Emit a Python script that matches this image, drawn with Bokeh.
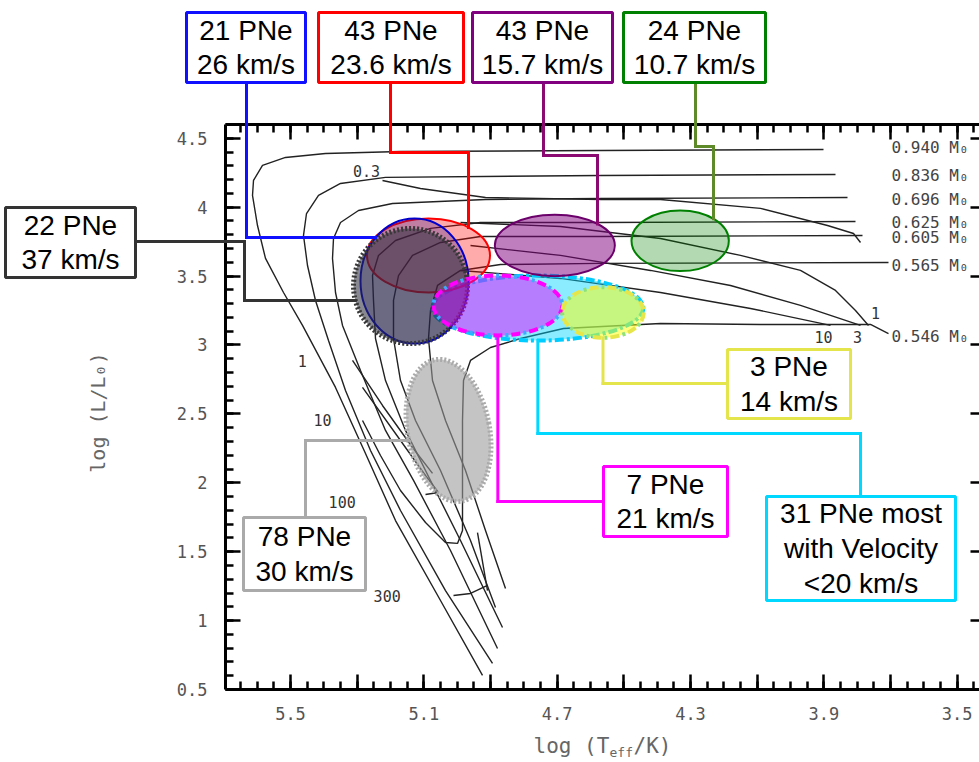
import math
from bokeh.plotting import figure
from bokeh.models import (Range1d, LinearAxis, FixedTicker, CustomJSTickFormatter,
                          Label, BoxAnnotation, Arrow, ColumnDataSource)
from bokeh.embed import file_html
from bokeh.resources import INLINE

# ---------------------------------------------------------------- data
# post-AGB evolutionary tracks, labelled by remnant mass (M_sun)
track_masses = ["0.940", "0.836", "0.696", "0.625", "0.605", "0.565", "0.546"]
track_label_logL = [4.435, 4.230, 4.056, 3.891, 3.778, 3.577, 3.062]
track_logT = [
    [3.901, 4.57, 5.17, 5.395, 5.515, 5.584, 5.611, 5.614, 5.599, 5.575, 5.521, 5.464, 5.365, 5.275, 5.185, 5.05, 4.924],
    [3.865, 4.57, 5.215, 5.35, 5.416, 5.452, 5.461, 5.449, 5.425, 5.386, 5.335, 5.26, 5.17, 5.035, 4.894],
    [3.829, 4.57, 4.915, 5.194, 5.296, 5.35, 5.371, 5.374, 5.365, 5.344, 5.29, 5.215, 5.131, 5.02, 4.879],
    [3.805, 4.57, 4.93, 5.08, 5.185, 5.236, 5.254, 5.251, 5.245, 5.215, 5.155, 5.08, 4.99, 4.864],
    [3.784, 4.57, 4.93, 5.05, 5.134, 5.176, 5.191, 5.191, 5.17, 5.125, 5.05, 4.96, 4.885],
    [3.706, 4.57, 4.87, 4.99, 5.059, 5.08, 5.086, 5.074, 5.035, 4.975, 4.915, 4.855],
    [3.706, 3.76, 4.09, 4.39, 4.681, 4.81, 4.90, 4.96, 4.981, 4.984, 4.984, 4.984, 4.999, 5.035, 5.095, 5.17, 5.23, 5.284],
]
track_logL = [
    [4.419, 4.411, 4.404, 4.390, 4.361, 4.303, 4.194, 4.085, 3.867, 3.628, 3.381, 3.142, 2.692, 2.213, 1.726, 1.146, 0.602],
    [4.237, 4.230, 4.216, 4.172, 4.085, 3.954, 3.795, 3.577, 3.323, 3.033, 2.670, 2.234, 1.799, 1.218, 0.689],
    [4.070, 4.063, 4.056, 4.027, 3.976, 3.889, 3.773, 3.628, 3.381, 3.142, 2.815, 2.380, 2.017, 1.509, 0.798],
    [3.896, 3.889, 3.889, 3.846, 3.758, 3.650, 3.504, 3.323, 3.047, 2.742, 2.380, 2.017, 1.581, 0.950],
    [3.795, 3.787, 3.787, 3.744, 3.650, 3.504, 3.323, 3.047, 2.742, 2.452, 2.089, 1.581, 1.095],
    [3.599, 3.592, 3.584, 3.541, 3.432, 3.250, 3.047, 2.742, 2.452, 2.089, 1.654, 1.233],
    [3.083, 3.149, 3.149, 3.156, 3.120, 3.047, 2.982, 2.888, 2.742, 2.452, 2.017, 1.654, 1.560, 1.567, 1.712, 1.944, 2.198, 2.452],
]
# additional branches / loops of the tracks
branch_logT = [
    [5.224, 5.11, 4.915, 4.57, 4.39, 4.09, 3.889, 3.811, 3.79],
    [4.99, 4.69, 4.39, 4.15, 3.97, 3.865, 3.805, 3.766],
    [4.96, 4.69, 4.42, 4.18, 3.97, 3.79],
    [4.99, 4.69, 4.39, 4.12, 3.88],
    [5.314, 5.224, 5.134, 5.074],
    [5.284, 5.17, 5.095, 5.056, 5.095],
    [5.011, 4.96, 4.909],
    [4.939, 4.909],
]
branch_logL = [
    [4.194, 4.136, 4.070, 4.056, 4.056, 3.991, 3.867, 3.809, 3.744],
    [3.889, 3.860, 3.773, 3.650, 3.541, 3.396, 3.250, 3.142],
    [3.722, 3.650, 3.541, 3.432, 3.287, 3.142],
    [3.541, 3.483, 3.381, 3.265, 3.142],
    [2.888, 2.561, 2.256, 2.068],
    [2.692, 2.307, 2.053, 1.930, 1.915],
    [1.182, 1.197, 1.255],
    [1.639, 1.218],
]
# post-AGB age labels (10^3 yr) along the tracks
age_text = ["0.3", "1", "10", "100", "300", "10", "3", "1"]
age_logT = [5.272, 5.465, 5.404, 5.345, 5.21, 3.901, 3.799, 3.745]
age_logL = [4.259, 2.882, 2.459, 1.859, 1.175, 3.057, 3.057, 3.231]

# PN groups: number of nebulae, mean expansion velocity, region in the HR plane
group_pne = [21, 43, 43, 24, 22, 3, 7, 31, 78]
group_vel = ["26", "23.6", "15.7", "10.7", "37", "14", "21", "<20", "30"]
ell_logT = [5.128, 5.086, 4.707, 4.331, 5.140, 4.5625, 4.878, 4.758, 5.026]
ell_logL = [3.464, 3.649, 3.722, 3.756, 3.428, 3.236, 3.287, 3.268, 2.380]
ell_dT = [0.324, 0.369, 0.360, 0.292, 0.342, 0.245, 0.387, 0.633, 0.246]
ell_dL = [0.907, 0.537, 0.446, 0.440, 0.835, 0.368, 0.435, 0.472, 1.045]
ell_tilt = [0, 0, 0, 0, 0, 0, 0, 0, 0.19]

# axis ticks
x_major = [5.5, 5.3, 5.1, 4.9, 4.7, 4.5, 4.3, 4.1, 3.9, 3.7, 3.5]
x_labels = ["5.5", "", "5.1", "", "4.7", "", "4.3", "", "3.9", "", "3.5"]
y_major = [0.5, 1.0, 1.5, 2.0, 2.5, 3.0, 3.5, 4.0, 4.5]
y_labels = ["0.5", "1", "1.5", "2", "2.5", "3", "3.5", "4", "4.5"]

# ---------------------------------------------------------------- geometry
# the canvas is one big frame; the HR diagram box sits inside it and its
# axes are pinned with fixed_location, so call-outs can live around it
W, H = 979, 762
PLOT_L, PLOT_T, PLOT_B, PLOT_R = 225, 124, 689, 979
X_LEFT, X_RIGHT = 5.695, 3.433
Y_BOT, Y_TOP = 0.5, 4.6
PX_PER_X = (PLOT_R - PLOT_L) / (X_LEFT - X_RIGHT)
PX_PER_Y = (PLOT_B - PLOT_T) / (Y_TOP - Y_BOT)


def dx(px):
    return X_LEFT - (px - PLOT_L) / PX_PER_X


def dy(py):
    return Y_TOP - (py - PLOT_T) / PX_PER_Y


def sx(x):
    return PLOT_L + (X_LEFT - x) * PX_PER_X


def sy(y):
    return PLOT_T + (Y_TOP - y) * PX_PER_Y


def ell_px(i):
    return sx(ell_logT[i]), sy(ell_logL[i]), ell_dT[i] * PX_PER_X / 2, ell_dL[i] * PX_PER_Y / 2


def edge_top(i, px):
    cx, cy, a, b = ell_px(i)
    return (px, cy - b * math.sqrt(max(0.0, 1 - ((px - cx) / a) ** 2)))


def edge_bottom(i):
    cx, cy, a, b = ell_px(i)
    return (cx, cy + b)


def edge_left(i, py):
    cx, cy, a, b = ell_px(i)
    th = ell_tilt[i]
    best = None
    for k in range(1440):
        t = 2 * math.pi * k / 1440
        ux, uy = a * math.cos(t), b * math.sin(t)
        x = cx + ux * math.cos(th) + uy * math.sin(th)
        y = cy - ux * math.sin(th) + uy * math.cos(th)
        if x < cx and (best is None or abs(y - py) < abs(best[1] - py)):
            best = (x, y)
    return (best[0], py)


# ---------------------------------------------------------------- figure
p = figure(width=W, height=H,
           x_range=Range1d(dx(0), dx(W)), y_range=Range1d(dy(H), dy(0)),
           x_axis_location=None, y_axis_location=None,
           toolbar_location=None, output_backend="svg", min_border=0)
p.outline_line_color = None
p.grid.visible = False

fmt_code = ("const i = vals.findIndex(t => Math.abs(t - tick) < 1e-6);"
            "return i < 0 ? '' : names[i];")
x_fmt = CustomJSTickFormatter(args=dict(vals=x_major, names=x_labels), code=fmt_code)
y_fmt = CustomJSTickFormatter(args=dict(vals=y_major, names=y_labels), code=fmt_code)
blank_fmt = CustomJSTickFormatter(code="return '';")

x_minor = [round(3.45 + 0.05 * k, 2) for k in range(45)]
y_minor = [round(0.5 + 0.1 * k, 1) for k in range(42)]
x_ticker = FixedTicker(ticks=x_major, minor_ticks=x_minor)
y_ticker = FixedTicker(ticks=y_major, minor_ticks=y_minor)

x_bounds = (dx(W + 12), X_LEFT)
y_bounds = (Y_BOT, Y_TOP)


def make_axis(ticker, fmt, loc, bounds, show_labels, tick_in=15, minor_in=8,
              line=True, standoff=0):
    ax = LinearAxis(ticker=ticker, formatter=fmt, fixed_location=loc, bounds=bounds)
    ax.axis_line_width = 3
    ax.axis_line_color = "black" if line else None
    ax.major_tick_in = tick_in
    ax.major_tick_out = 0
    ax.minor_tick_in = minor_in
    ax.minor_tick_out = 0
    ax.major_tick_line_width = 2.5
    ax.minor_tick_line_width = 2.5
    if minor_in == 0:
        ax.minor_tick_line_color = None
    ax.major_label_text_font = "DejaVu Sans Mono"
    ax.major_label_text_font_size = "17px" if show_labels else "0px"
    ax.major_label_text_color = "#555555"
    ax.major_label_standoff = standoff
    return ax


p.add_layout(make_axis(y_ticker, y_fmt, X_LEFT, y_bounds, True, standoff=18), "left")
p.add_layout(make_axis(x_ticker, x_fmt, Y_BOT, x_bounds, True, standoff=17), "below")
p.add_layout(make_axis(x_ticker, blank_fmt, Y_TOP, x_bounds, False), "above")
p.add_layout(make_axis(y_ticker, blank_fmt, dx(988), y_bounds, False, tick_in=18,
                       minor_in=0, line=False), "right")

# ---------------------------------------------------------------- tracks
p.multi_line(track_logT, track_logL, line_color="#222222", line_width=1.4)
p.multi_line(branch_logT, branch_logL, line_color="#222222", line_width=1.4)

for m, yl in zip(track_masses, track_label_logL):
    p.add_layout(Label(x=3.697, y=yl, text=f"{m} M\u2080", text_font="DejaVu Sans Mono",
                       text_font_size="16px", text_color="#444444",
                       text_align="left", text_baseline="middle"))
for t, xt, yt in zip(age_text, age_logT, age_logL):
    p.add_layout(Label(x=xt, y=yt, text=t, text_font="DejaVu Sans Mono",
                       text_font_size="15px", text_color="#333333",
                       text_align="center", text_baseline="middle"))

# ---------------------------------------------------------------- PN regions
styles = {
    0: dict(fill_color="#1a0a8c", fill_alpha=0.28, line_color="#0000cc", line_width=2),
    1: dict(fill_color="#ff0000", fill_alpha=0.33, line_color="#ff0000", line_width=2),
    2: dict(fill_color="#800080", fill_alpha=0.50, line_color="#6b006b", line_width=2),
    3: dict(fill_color="#008000", fill_alpha=0.30, line_color="#008000", line_width=2),
    4: dict(fill_color="#2a2a3a", fill_alpha=0.56, line_color="#383838", line_width=5, line_dash="2 2"),
    5: dict(fill_color="#ffff00", fill_alpha=0.50, line_color=None),
    6: dict(fill_color="#e600ff", fill_alpha=0.47, line_color=None),
    7: dict(fill_color="#00d4ff", fill_alpha=0.45, line_color="#00ccff", line_width=4, line_dash="9 3 3 3"),
    8: dict(fill_color="#999999", fill_alpha=0.58, line_color="#aaaaaa", line_width=5, line_dash="2 2"),
}
# two-colour dash-dot outlines: (dash colour, dot colour)
dashdot = {5: ("#e6e64a", "#8fe27a"), 6: ("#ff00ff", "#3fa9ff")}

for i in [7, 1, 0, 4, 6, 5, 2, 3, 8]:
    p.ellipse(x=ell_logT[i], y=ell_logL[i], width=ell_dT[i], height=ell_dL[i],
              angle=ell_tilt[i], **styles[i])
    if i in dashdot:
        dash_c, dot_c = dashdot[i]
        p.ellipse(x=ell_logT[i], y=ell_logL[i], width=ell_dT[i], height=ell_dL[i],
                  fill_color=None, line_color=dot_c, line_width=4,
                  line_dash="3 15", line_dash_offset=6)
        p.ellipse(x=ell_logT[i], y=ell_logL[i], width=ell_dT[i], height=ell_dL[i],
                  fill_color=None, line_color=dash_c, line_width=4, line_dash="9 9")

# ---------------------------------------------------------------- call-outs
box_colors = ["#1010ff", "#ff0000", "#800080", "#008000", "#333333",
              "#e4e44c", "#ff00ff", "#00d8ff", "#aaaaaa"]
line_colors = ["#1010ff", "#ff0000", "#8b0a72", "#5f8a2a", "#333333",
               "#e4e44c", "#ff00ff", "#00d8ff", "#aaaaaa"]
box_px = [(186, 12, 305, 82), (318, 12, 463, 82), (472, 12, 612, 82), (623, 12, 765, 82),
          (5, 207, 135, 277), (727, 349, 850, 418), (603, 466, 727, 536),
          (766, 496, 955, 600), (243, 517, 365, 590)]

paths = [
    [(246, 82), (246, 237), edge_left(0, 237)],
    [(390, 82), (390, 152), (468, 152), edge_top(1, 468)],
    [(543, 82), (543, 155), (597, 155), edge_top(2, 597)],
    [(695, 82), (695, 146), (713, 146), edge_top(3, 713)],
    [(135, 241), (244, 241), (244, 300), edge_left(4, 300)],
    [edge_bottom(5), (edge_bottom(5)[0], 383), (727, 383)],
    [edge_bottom(6), (edge_bottom(6)[0], 501), (603, 501)],
    [edge_bottom(7), (edge_bottom(7)[0], 433), (860, 433), (860, 496)],
    [edge_left(8, 440), (305, 440), (305, 517)],
]

for i, path in enumerate(paths):
    seg = dict(x0=[], y0=[], x1=[], y1=[])
    for (ax_, ay_), (bx_, by_) in zip(path[:-1], path[1:]):
        seg["x0"].append(dx(ax_)); seg["y0"].append(dy(ay_))
        seg["x1"].append(dx(bx_)); seg["y1"].append(dy(by_))
    p.add_layout(Arrow(end=None, x_start="x0", y_start="y0", x_end="x1", y_end="y1",
                       source=ColumnDataSource(seg), line_color=line_colors[i],
                       line_width=3, line_cap="square"))

for i, (l, t, r, b) in enumerate(box_px):
    p.add_layout(BoxAnnotation(left=dx(l), right=dx(r), top=dy(t), bottom=dy(b),
                               fill_color="white", fill_alpha=1.0,
                               line_color=box_colors[i], line_width=3, line_alpha=1.0))
    if i == 7:
        txt = f"{group_pne[i]} PNe most\nwith Velocity\n{group_vel[i]} km/s"
    else:
        txt = f"{group_pne[i]} PNe\n{group_vel[i]} km/s"
    p.add_layout(Label(x=dx((l + r) / 2), y=dy((t + b) / 2), text=txt,
                       text_font="Liberation Sans", text_font_size="28px",
                       text_color="black", text_align="center", text_baseline="middle",
                       text_line_height=1.12))

# ---------------------------------------------------------------- axis titles
p.add_layout(Label(x=dx(97), y=dy(412), text="log (L/L\u2080)", angle=math.pi / 2,
                   text_font="DejaVu Sans Mono", text_font_size="20px", text_color="#666666",
                   text_align="center", text_baseline="middle"))
p.add_layout(Label(x=dx(533), y=dy(745), text="log (T", text_font="DejaVu Sans Mono",
                   text_font_size="21px", text_color="#666666",
                   text_align="left", text_baseline="middle"))
p.add_layout(Label(x=dx(609), y=dy(752), text="eff", text_font="DejaVu Sans Mono",
                   text_font_size="13px", text_color="#666666",
                   text_align="left", text_baseline="middle"))
p.add_layout(Label(x=dx(633), y=dy(745), text="/K)", text_font="DejaVu Sans Mono",
                   text_font_size="21px", text_color="#666666",
                   text_align="left", text_baseline="middle"))

open("out.html", "w").write(file_html(p, INLINE))
